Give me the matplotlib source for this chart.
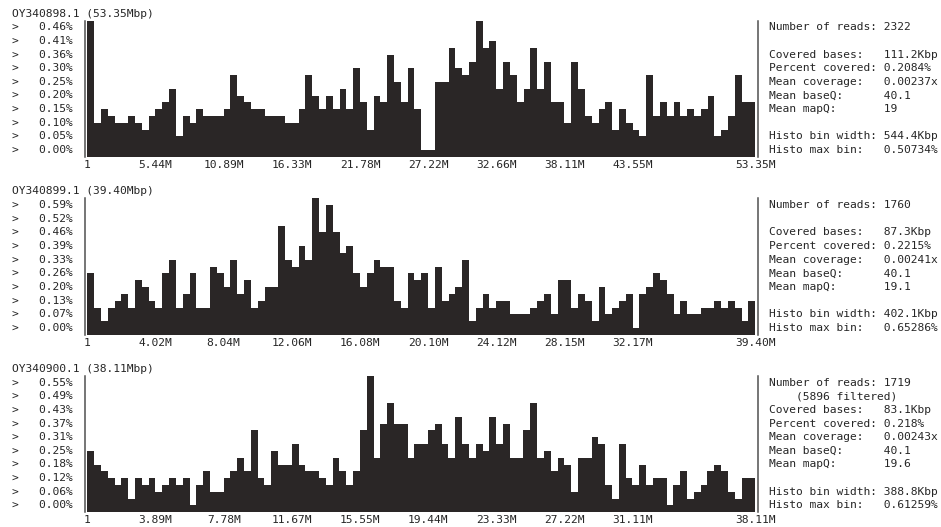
import numpy as np
import matplotlib
matplotlib.use("Agg")
import matplotlib.pyplot as plt
from matplotlib.transforms import blended_transform_factory

# ---- coverage histograms (percent of bin covered), 98 bins per contig ----
contigs = ["OY340898.1 (53.35Mbp)", "OY340899.1 (39.40Mbp)", "OY340900.1 (38.11Mbp)"]
bin_mbp = [0.5444, 0.4021, 0.3888]
max_bin = [0.50734, 0.65286, 0.61259]

cov_898 = [0.507, 0.127, 0.178, 0.152, 0.127, 0.127, 0.152, 0.127, 0.101, 0.152,
           0.178, 0.203, 0.254, 0.076, 0.152, 0.127, 0.178, 0.152, 0.152, 0.152,
           0.178, 0.304, 0.228, 0.203, 0.178, 0.178, 0.152, 0.152, 0.152, 0.127,
           0.127, 0.178, 0.304, 0.228, 0.178, 0.228, 0.178, 0.254, 0.178, 0.330,
           0.203, 0.101, 0.228, 0.203, 0.381, 0.279, 0.203, 0.330, 0.178, 0.025,
           0.025, 0.279, 0.279, 0.406, 0.330, 0.304, 0.355, 0.507, 0.406, 0.431,
           0.254, 0.355, 0.304, 0.203, 0.254, 0.406, 0.254, 0.355, 0.203, 0.203,
           0.127, 0.355, 0.254, 0.152, 0.127, 0.178, 0.203, 0.101, 0.178, 0.127,
           0.101, 0.076, 0.304, 0.152, 0.203, 0.152, 0.203, 0.152, 0.178, 0.152,
           0.178, 0.228, 0.076, 0.101, 0.152, 0.304, 0.203, 0.203]

cov_899 = [0.294, 0.131, 0.065, 0.131, 0.163, 0.196, 0.131, 0.261, 0.229, 0.163,
           0.131, 0.294, 0.359, 0.131, 0.196, 0.294, 0.131, 0.131, 0.326, 0.294,
           0.229, 0.359, 0.196, 0.261, 0.131, 0.163, 0.229, 0.229, 0.522, 0.359,
           0.326, 0.424, 0.359, 0.653, 0.490, 0.620, 0.490, 0.392, 0.424, 0.294,
           0.229, 0.294, 0.359, 0.326, 0.326, 0.163, 0.131, 0.294, 0.261, 0.294,
           0.131, 0.326, 0.163, 0.196, 0.229, 0.359, 0.065, 0.131, 0.196, 0.131,
           0.163, 0.163, 0.098, 0.098, 0.098, 0.131, 0.163, 0.196, 0.098, 0.261,
           0.261, 0.131, 0.196, 0.163, 0.065, 0.229, 0.098, 0.131, 0.163, 0.196,
           0.033, 0.196, 0.229, 0.294, 0.261, 0.196, 0.098, 0.163, 0.098, 0.098,
           0.131, 0.131, 0.163, 0.131, 0.163, 0.131, 0.065, 0.163]

cov_900 = [0.276, 0.214, 0.184, 0.153, 0.123, 0.153, 0.061, 0.153, 0.123, 0.153,
           0.092, 0.123, 0.153, 0.123, 0.153, 0.031, 0.123, 0.184, 0.092, 0.092,
           0.153, 0.184, 0.245, 0.184, 0.368, 0.153, 0.123, 0.276, 0.214, 0.214,
           0.306, 0.214, 0.184, 0.184, 0.153, 0.123, 0.245, 0.184, 0.123, 0.184,
           0.368, 0.613, 0.245, 0.398, 0.490, 0.398, 0.398, 0.245, 0.306, 0.306,
           0.368, 0.398, 0.306, 0.245, 0.429, 0.306, 0.245, 0.306, 0.276, 0.429,
           0.306, 0.398, 0.245, 0.245, 0.368, 0.490, 0.245, 0.276, 0.184, 0.245,
           0.214, 0.092, 0.245, 0.245, 0.337, 0.306, 0.123, 0.061, 0.306, 0.153,
           0.123, 0.214, 0.123, 0.153, 0.153, 0.031, 0.123, 0.184, 0.061, 0.092,
           0.123, 0.184, 0.214, 0.184, 0.092, 0.061, 0.153, 0.153]

coverage = [cov_898, cov_899, cov_900]

# y-axis row labels (bottom to top)
ylabels_898 = ["0.00%", "0.05%", "0.10%", "0.15%", "0.20%", "0.25%", "0.30%", "0.36%", "0.41%", "0.46%"]
ylabels_899 = ["0.00%", "0.07%", "0.13%", "0.20%", "0.26%", "0.33%", "0.39%", "0.46%", "0.52%", "0.59%"]
ylabels_900 = ["0.00%", "0.06%", "0.12%", "0.18%", "0.25%", "0.31%", "0.37%", "0.43%", "0.49%", "0.55%"]
ylabels = [ylabels_898, ylabels_899, ylabels_900]

# x-axis ticks (Mbp) and labels
xticks_898 = [0, 5.44, 10.89, 16.33, 21.78, 27.22, 32.66, 38.11, 43.55, 53.35]
xlabels_898 = ["1", "5.44M", "10.89M", "16.33M", "21.78M", "27.22M", "32.66M", "38.11M", "43.55M", "53.35M"]
xticks_899 = [0, 4.02, 8.04, 12.06, 16.08, 20.10, 24.12, 28.15, 32.17, 39.40]
xlabels_899 = ["1", "4.02M", "8.04M", "12.06M", "16.08M", "20.10M", "24.12M", "28.15M", "32.17M", "39.40M"]
xticks_900 = [0, 3.89, 7.78, 11.67, 15.55, 19.44, 23.33, 27.22, 31.11, 38.11]
xlabels_900 = ["1", "3.89M", "7.78M", "11.67M", "15.55M", "19.44M", "23.33M", "27.22M", "31.11M", "38.11M"]
xticks = [xticks_898, xticks_899, xticks_900]
xlabels = [xlabels_898, xlabels_899, xlabels_900]

# summary statistics, one line per row (top to bottom)
stats_898 = ["Number of reads: 2322", "",
             "Covered bases:   111.2Kbp", "Percent covered: 0.2084%",
             "Mean coverage:   0.00237x", "Mean baseQ:      40.1", "Mean mapQ:       19", "",
             "Histo bin width: 544.4Kbp", "Histo max bin:   0.50734%"]
stats_899 = ["Number of reads: 1760", "",
             "Covered bases:   87.3Kbp", "Percent covered: 0.2215%",
             "Mean coverage:   0.00241x", "Mean baseQ:      40.1", "Mean mapQ:       19.1", "",
             "Histo bin width: 402.1Kbp", "Histo max bin:   0.65286%"]
stats_900 = ["Number of reads: 1719", "    (5896 filtered)",
             "Covered bases:   83.1Kbp", "Percent covered: 0.218%",
             "Mean coverage:   0.00243x", "Mean baseQ:      40.1", "Mean mapQ:       19.6", "",
             "Histo bin width: 388.8Kbp", "Histo max bin:   0.61259%"]
stats = [stats_898, stats_899, stats_900]

# ---- layout (pixels) ----
W, H = 941, 527
bar_left, bar_right = 87.3, 755.3
panel_top = [20.7, 198.3, 375.7]
panel_base = [156.7, 335.0, 512.3]

MONO = "DejaVu Sans Mono"
FS = 8.1
TXT = "#262626"
BAR = "#2a2626"
SPINE = "#505050"

fig = plt.figure(figsize=(W / 100, H / 100), dpi=100)
fig.patch.set_facecolor("white")

for k in range(3):
    top, base = panel_top[k], panel_base[k]
    ax = fig.add_axes([bar_left / W, 1 - base / H,
                       (bar_right - bar_left) / W, (base - top) / H])
    vals = np.array(coverage[k])
    x = np.arange(len(vals)) * bin_mbp[k]
    ax.bar(x, vals, width=bin_mbp[k], align="edge", color=BAR, edgecolor="none",
           linewidth=0)
    ax.set_xlim(0, len(vals) * bin_mbp[k])
    ax.set_ylim(0, max_bin[k])

    for side in ("top", "bottom"):
        ax.spines[side].set_visible(False)
    ax.spines["left"].set_position(("outward", 1.6))
    ax.spines["right"].set_position(("outward", 2.2))
    for side in ("left", "right"):
        ax.spines[side].set_color(SPINE)
        ax.spines[side].set_linewidth(1.1)

    ax.set_yticks([])
    ax.set_xticks(xticks[k])
    ax.set_xticklabels(xlabels[k], fontfamily=MONO, fontsize=FS, color=TXT)
    ax.tick_params(axis="x", length=0, pad=2.2)

    tr = blended_transform_factory(fig.transFigure, ax.transAxes)
    # contig title above the panel
    ax.text(12.3 / W, 1.05, contigs[k], transform=tr, fontfamily=MONO,
            fontsize=FS, color=TXT, ha="left", va="center")
    # row labels
    for i, lab in enumerate(ylabels[k]):
        yc = (i + 0.5) / 10
        ax.text(12.3 / W, yc, ">   " + lab, transform=tr, fontfamily=MONO,
                fontsize=FS, color=TXT, ha="left", va="center")
    # statistics block
    for j, line in enumerate(stats[k]):
        if not line:
            continue
        yc = (9.5 - j) / 10
        ax.text(769 / W, yc, line, transform=tr, fontfamily=MONO,
                fontsize=FS, color=TXT, ha="left", va="center")

fig.savefig("out.png", dpi=100)
